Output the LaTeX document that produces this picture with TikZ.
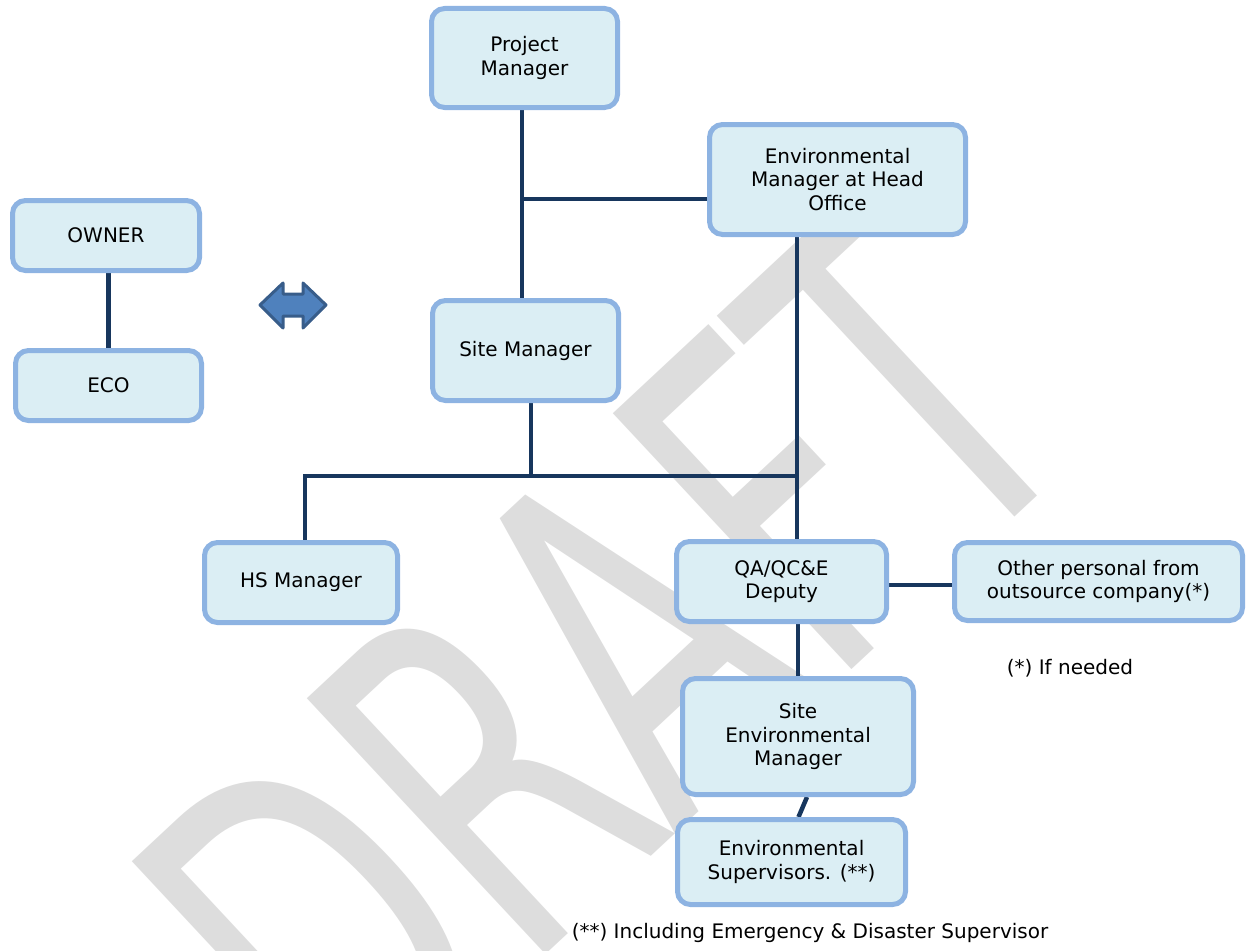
\documentclass[tikz,border=0pt]{standalone}
\usepackage{fontspec}
\setmainfont{DejaVu Sans}
\usetikzlibrary{backgrounds}

\definecolor{boxfill}{HTML}{DBEEF4}
\definecolor{boxline}{HTML}{8DB3E2}
\definecolor{linknavy}{HTML}{17365D}
\definecolor{arrowfill}{HTML}{4F81BD}
\definecolor{arrowline}{HTML}{385D8A}
\definecolor{draftgray}{HTML}{DDDDDD}

\tikzset{
	orgbox/.style={draw=boxline, fill=boxfill, line width=5pt, rounded corners=13pt,
		align=center, inner sep=0pt, font=\fontsize{20}{23.5}\selectfont},
	link/.style={draw=linknavy, line width=4.5pt},
	note/.style={inner sep=0pt, font=\fontsize{20}{23.5}\selectfont}
}

\begin{document}
\begin{tikzpicture}[x=1pt, y=-1pt]
	\useasboundingbox (0,0) rectangle (1247,950);

	% boxes
	\node[orgbox, minimum width=186pt, minimum height=99pt] (pm) at (524.5,58) {Project\\Manager};
	\node[orgbox, minimum width=256pt, minimum height=110pt] (em) at (837.5,179.5) {Environmental\\Manager at Head\\Office};
	\node[orgbox, minimum width=187pt, minimum height=70pt] (owner) at (106,235.5) {OWNER};
	\node[orgbox, minimum width=186pt, minimum height=70pt] (eco) at (108.5,385.5) {ECO};
	\node[orgbox, minimum width=186pt, minimum height=100pt] (sm) at (525.5,350.5) {Site Manager};
	\node[orgbox, minimum width=193pt, minimum height=80pt] (hs) at (301,582.5) {HS Manager};
	\node[orgbox, minimum width=210pt, minimum height=80pt] (qa) at (781.5,581.5) {QA/QC\&E\\Deputy};
	\node[orgbox, minimum width=288pt, minimum height=78pt] (other) at (1098.5,581.5) {Other personal from\\outsource company(*)};
	\node[orgbox, minimum width=231pt, minimum height=116pt] (sem) at (798,736.5) {Site\\Environmental\\Manager};
	\node[orgbox, minimum width=228pt, minimum height=85pt] (es) at (791.5,862) {Environmental\\Supervisors. (**)};

	% notes
	\node[note] (n1) at (1070,668) {(*) If needed};
	\node[note] (n2) at (810,933) {(**) Including Emergency \& Disaster Supervisor};

	% double arrow between owner side and contractor side
	\draw[fill=arrowfill, draw=arrowline, line width=3pt, line join=round]
		(260,305) -- (283,283) -- (283,294) -- (303,294) -- (303,283) -- (326,305)
		-- (303,328) -- (303,316) -- (283,316) -- (283,328) -- cycle;

	% junctions
	\coordinate (jp) at (522,199);
	\coordinate (jh) at (305,476);
	\coordinate (js) at (531,476);
	\coordinate (jv) at (797,476);

	\begin{scope}[on background layer]
		% watermark
		\node[inner sep=0pt, anchor=base west, rotate=43, text=draftgray,
			font=\fontsize{480}{480}\selectfont] (draft) at (348,1139) {\scalebox{0.65}[1]{DRAFT}};
		% connectors
		\draw[link] (pm.south -| jp) -- (sm.north -| jp);
		\draw[link] (jp) -- (jp -| em.west);
		\draw[link] (em.south -| jv) -- (qa.north -| jv);
		\draw[link] (sm.south -| js) -- (js);
		\draw[link] (hs.north -| jh) -- (jh) -- (jv);
		\draw[link] ([yshift=-3.5pt]qa.east) -- ([yshift=-3.5pt]other.west);
		\draw[link] (qa.south -| sem.north) -- (sem.north);
		\draw[link] ([xshift=9pt]sem.south) -- ([xshift=7pt]es.north);
		\draw[link] (owner.south -| eco.north) -- (eco.north);
	\end{scope}
\end{tikzpicture}
\end{document}
